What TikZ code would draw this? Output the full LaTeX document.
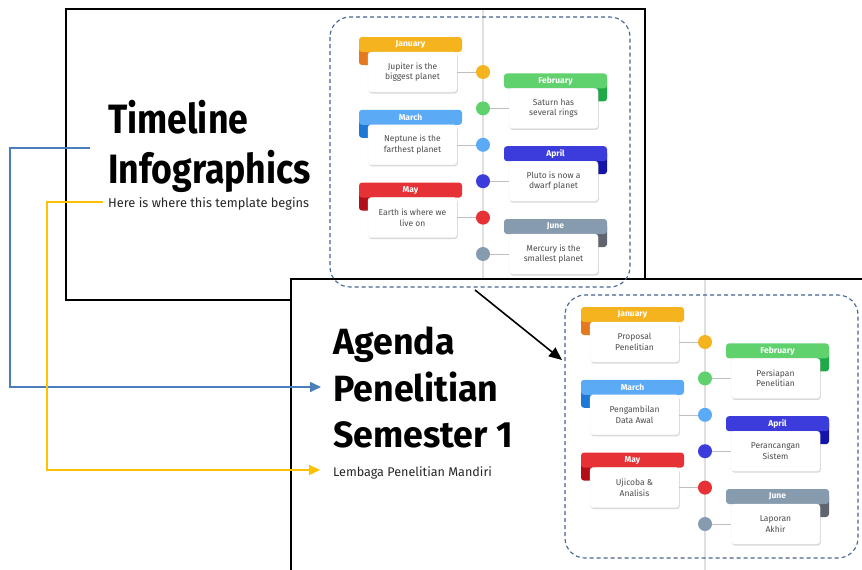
\documentclass[tikz,border=0pt]{standalone}
\usepackage{fontspec}
\setmainfont{Fira Sans}
\newfontfamily\titlefontA[FakeStretch=0.87]{Fira Sans}
\newfontfamily\titlefontB[FakeStretch=0.98]{Fira Sans}
\usetikzlibrary{arrows.meta,shadows}

\definecolor{janc}{RGB}{245,180,30}\definecolor{janf}{RGB}{230,120,30}
\definecolor{febc}{RGB}{95,210,110}\definecolor{febf}{RGB}{30,170,70}
\definecolor{marc}{RGB}{90,170,245}\definecolor{marf}{RGB}{30,120,215}
\definecolor{aprc}{RGB}{60,60,220}\definecolor{aprf}{RGB}{20,20,170}
\definecolor{mayc}{RGB}{230,50,55}\definecolor{mayf}{RGB}{180,15,25}
\definecolor{junc}{RGB}{135,155,175}\definecolor{junf}{RGB}{95,100,110}
\definecolor{dashc}{RGB}{68,100,145}
\definecolor{arrblue}{RGB}{74,126,187}
\definecolor{arryel}{RGB}{255,192,0}

\tikzset{
  slide/.style={draw=black, line width=1.6pt, fill=white},
  hdr/.style={rectangle, rounded corners=3pt, minimum width=103pt, minimum height=15pt, inner sep=0pt, text=white, font=\bfseries\fontsize{8.5}{9}\selectfont},
  bodybox/.style={rectangle, rounded corners=3pt, minimum width=89pt, minimum height=40pt, inner sep=0pt, fill=white, draw=black!6, align=center, text=black!70, font=\fontsize{8.5}{10.5}\selectfont, drop shadow={opacity=0.3, shadow xshift=0.8pt, shadow yshift=-1.5pt}},
  tdot/.style={circle, minimum size=14pt, inner sep=0pt},
  conn/.style={draw=black!25, line width=0.6pt},
  spine/.style={draw=black!12, line width=1.5pt},
  dbox/.style={draw=dashc, dash pattern=on 4pt off 3pt, line width=1.1pt, rounded corners=20pt},
  barrow/.style={draw=arrblue, line width=1.6pt, -{Triangle[length=11pt,width=10pt]}},
  yarrow/.style={draw=arryel, line width=1.6pt, -{Triangle[length=11pt,width=10pt]}},
  karrow/.style={draw=black, line width=1.6pt, -{Triangle[length=13pt,width=11pt]}},
  bigtitleA/.style={anchor=base west, inner sep=0pt, font=\titlefontA\bfseries\fontsize{41}{41}\selectfont},
  bigtitleB/.style={anchor=base west, inner sep=0pt, font=\titlefontB\bfseries\fontsize{36.5}{36}\selectfont},
  subt/.style={anchor=base west, inner sep=0pt, text=black!85},
}

% #1 name, #2 dot x, #3 header top y, #4 colour, #5 fold colour, #6 month, #7 text
\newcommand\leftcard[7]{%
  \fill[#5, rounded corners=3pt] (#2-124,#3+4) rectangle (#2-110,#3+28);
  \node[hdr, fill=#4] (#1h) at (#2-72.5,#3+7.5) {#6};
  \node[bodybox] (#1b) at (#2-70.5,#3+35) {#7};
  \node[tdot, fill=#4] (#1d) at (#2,#3+35) {};
  \draw[conn] (#1b.east) -- (#1d.west);
}
\newcommand\rightcard[7]{%
  \fill[#5, rounded corners=3pt] (#2+110,#3+4) rectangle (#2+124,#3+28);
  \node[hdr, fill=#4] (#1h) at (#2+72.5,#3+7.5) {#6};
  \node[bodybox] (#1b) at (#2+70.5,#3+35) {#7};
  \node[tdot, fill=#4] (#1d) at (#2,#3+35) {};
  \draw[conn] (#1d.east) -- (#1b.west);
}

\begin{document}
\begin{tikzpicture}[x=1pt,y=-1pt]
\useasboundingbox (0,0) rectangle (862,570);

% ---- top slide
\draw[slide] (66,9) rectangle (645,300);
\draw[spine] (483,10) -- (483,299);
\node[bigtitleA] (t1a) at (108,133) {Timeline};
\node[bigtitleA] (t1b) at (108,183) {Infographics};
\node[subt, font=\fontsize{12.8}{13}\selectfont] (s1) at (108,207) {Here is where this template begins};

\leftcard{aa}{483}{37}{janc}{janf}{January}{Jupiter is the\\biggest planet}
\rightcard{ab}{483}{73.4}{febc}{febf}{February}{Saturn has\\several rings}
\leftcard{ac}{483}{109.8}{marc}{marf}{March}{Neptune is the\\farthest planet}
\rightcard{ad}{483}{146.2}{aprc}{aprf}{April}{Pluto is now a\\dwarf planet}
\leftcard{ae}{483}{182.6}{mayc}{mayf}{May}{Earth is where we\\live on}
\rightcard{af}{483}{219}{junc}{junf}{June}{Mercury is the\\smallest planet}

% ---- bottom slide
\fill[white] (291,279) rectangle (862,570);
\draw[black, line width=1.6pt] (862,279) -- (291,279) -- (291,570);
\draw[spine] (705,280) -- (705,570);
\node[bigtitleB] (t2a) at (333,354) {Agenda};
\node[bigtitleB] (t2b) at (333,401) {Penelitian};
\node[bigtitleB] (t2c) at (333,447) {Semester 1};
\node[subt, font=\fontsize{12.6}{13}\selectfont] (s2) at (333,476) {Lembaga Penelitian Mandiri};

\leftcard{ba}{705}{307}{janc}{janf}{January}{Proposal\\Penelitian}
\rightcard{bb}{705}{343.4}{febc}{febf}{February}{Persiapan\\Penelitian}
\leftcard{bc}{705}{379.8}{marc}{marf}{March}{Pengambilan\\Data Awal}
\rightcard{bd}{705}{416.2}{aprc}{aprf}{April}{Perancangan\\Sistem}
\leftcard{be}{705}{452.6}{mayc}{mayf}{May}{Ujicoba \&\\Analisis}
\rightcard{bf}{705}{489}{junc}{junf}{June}{Laporan\\Akhir}

% ---- annotations
\draw[dbox] (330,17) rectangle (630,287);
\draw[dbox] (565,295) rectangle (858,558);

\coordinate (ks) at (475,290);
\coordinate (ke) at (562,360);
\draw[karrow] (ks) -- (ke);

\coordinate (bs) at (90,148);
\coordinate (bend) at (321,387);
\draw[barrow] (bs) -- ++(-80,0) |- (bend);

\coordinate (ys) at (103,202);
\coordinate (yend) at (320,470);
\draw[yarrow] (ys) -- ++(-56,0) |- (yend);
\end{tikzpicture}
\end{document}
